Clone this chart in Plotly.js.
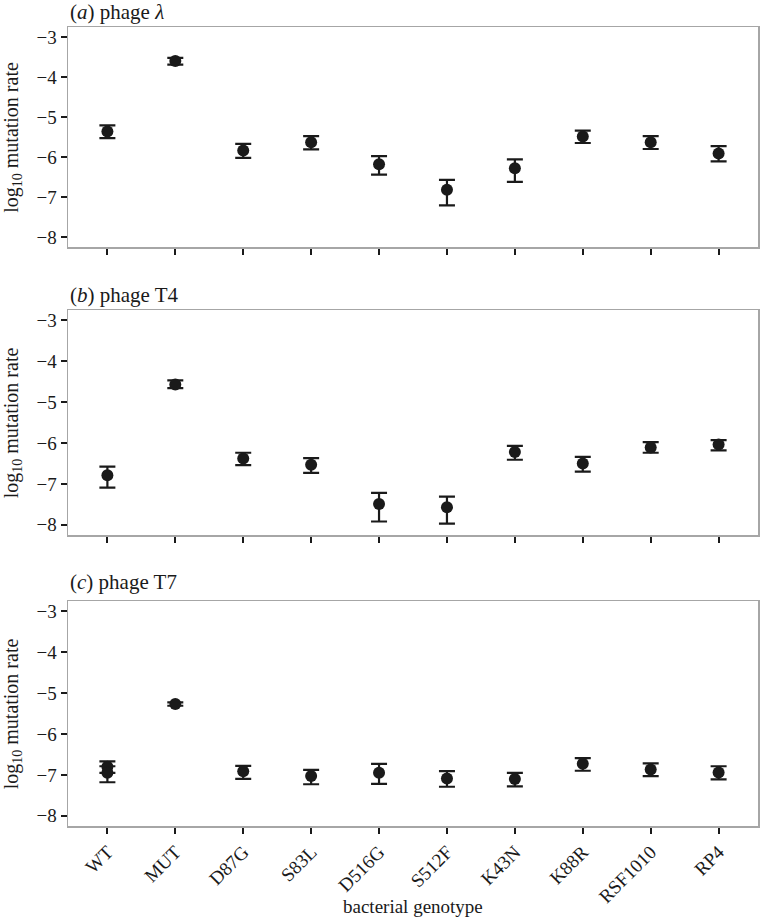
<!DOCTYPE html>
<html>
<head>
<meta charset="utf-8">
<script src="https://cdn.plot.ly/plotly-3.0.1.min.js"></script>
<style>
  html, body { margin: 0; padding: 0; background: #fff; }
  #plot { width: 761px; height: 923px; }
</style>
</head>
<body>
<div id="plot"></div>
<script>
// bacterial genotypes on the x axis
const genotypes = ["WT", "MUT", "D87G", "S83L", "D516G", "S512F", "K43N", "K88R", "RSF1010", "RP4"];
const yTicks = [-3, -4, -5, -6, -7, -8];

// (a) phage lambda: log10 mutation rate and interval ends
const lambdaRate = [-5.36, -3.60, -5.84, -5.63, -6.18, -6.82, -6.28, -5.49, -5.63, -5.91];
const lambdaUpper = [-5.21, -3.52, -5.67, -5.48, -5.98, -6.57, -6.06, -5.34, -5.48, -5.73];
const lambdaLower = [-5.53, -3.69, -6.02, -5.81, -6.44, -7.21, -6.62, -5.65, -5.80, -6.11];

// (b) phage T4
const t4Rate = [-6.79, -4.57, -6.38, -6.53, -7.49, -7.57, -6.22, -6.50, -6.11, -6.04];
const t4Upper = [-6.58, -4.47, -6.24, -6.37, -7.22, -7.31, -6.07, -6.34, -5.98, -5.93];
const t4Lower = [-7.09, -4.66, -6.54, -6.73, -7.92, -7.97, -6.41, -6.70, -6.24, -6.18];

// (c) phage T7 (WT appears twice)
const t7Genotypes = ["WT", "WT", "MUT", "D87G", "S83L", "D516G", "S512F", "K43N", "K88R", "RSF1010", "RP4"];
const t7Rate = [-6.80, -6.95, -5.27, -6.91, -7.03, -6.95, -7.09, -7.10, -6.73, -6.87, -6.94];
const t7Upper = [-6.67, -6.79, -5.23, -6.78, -6.88, -6.73, -6.91, -6.95, -6.59, -6.72, -6.79];
const t7Lower = [-6.95, -7.18, -5.31, -7.10, -7.23, -7.22, -7.29, -7.28, -6.90, -7.03, -7.11];

const ink = "#1a1a1a";
const serif = "'Liberation Serif', 'Times New Roman', 'DejaVu Serif', serif";

function makeTrace(x, rate, upper, lower, axisNum) {
  return {
    x: x,
    y: rate,
    type: "scatter",
    mode: "markers",
    marker: { color: ink, size: 12 },
    error_y: {
      type: "data",
      symmetric: false,
      array: upper.map((u, i) => u - rate[i]),
      arrayminus: rate.map((r, i) => r - lower[i]),
      color: ink,
      thickness: 2.2,
      width: 8,
    },
    xaxis: "x" + (axisNum === 1 ? "" : axisNum),
    yaxis: "y" + (axisNum === 1 ? "" : axisNum),
    showlegend: false,
    hoverinfo: "x+y",
  };
}

function xAxis(anchor, labels) {
  return {
    anchor: anchor,
    domain: [0, 1],
    type: "category",
    categoryorder: "array",
    categoryarray: genotypes,
    range: [-0.58, 9.58],
    showgrid: false,
    zeroline: false,
    showline: true,
    mirror: true,
    linecolor: "#a6a6a6",
    linewidth: 1.5,
    ticks: "outside",
    ticklen: 6,
    tickwidth: 2,
    tickcolor: ink,
    showticklabels: labels,
    tickangle: -45,
    tickfont: { family: serif, size: 19, color: ink },
  };
}

function yAxis(anchor, domain) {
  return {
    anchor: anchor,
    domain: domain,
    range: [-8.25, -2.75],
    tickvals: yTicks,
    showgrid: false,
    zeroline: false,
    showline: true,
    mirror: true,
    linecolor: "#a6a6a6",
    linewidth: 1.5,
    ticks: "outside",
    ticklen: 6,
    tickwidth: 2,
    tickcolor: ink,
    tickfont: { family: serif, size: 19, color: ink },
  };
}

// panel positions in pixels (top, bottom), turned into paper fractions
const H = 923;
const panels = [[27, 247], [310, 535], [601, 826]];
const domains = panels.map((p) => [1 - p[1] / H, 1 - p[0] / H]);
const titleY = [12, 295, 582].map((v) => 1 - v / H);
const panelTitles = [
  "(<i>a</i>) phage <i>λ</i>",
  "(<i>b</i>) phage T4",
  "(<i>c</i>) phage T7",
];

const annotations = [];
panelTitles.forEach((t, i) => {
  annotations.push({
    text: t,
    xref: "paper",
    yref: "paper",
    x: 0,
    y: titleY[i],
    xanchor: "left",
    yanchor: "middle",
    showarrow: false,
    font: { family: serif, size: 21, color: ink },
  });
  annotations.push({
    text: "log<sub>10</sub> mutation rate",
    xref: "paper",
    yref: "paper",
    x: -0.08,
    y: (domains[i][0] + domains[i][1]) / 2,
    xanchor: "center",
    yanchor: "middle",
    textangle: -90,
    showarrow: false,
    font: { family: serif, size: 20, color: ink },
  });
});
annotations.push({
  text: "bacterial genotype",
  xref: "paper",
  yref: "paper",
  x: 0.5,
  y: 1 - 906 / H,
  xanchor: "center",
  yanchor: "middle",
  showarrow: false,
  font: { family: serif, size: 19, color: ink },
});

const data = [
  makeTrace(genotypes, lambdaRate, lambdaUpper, lambdaLower, 1),
  makeTrace(genotypes, t4Rate, t4Upper, t4Lower, 2),
  makeTrace(t7Genotypes, t7Rate, t7Upper, t7Lower, 3),
];

const layout = {
  width: 761,
  height: 923,
  margin: { l: 68, r: 3, t: 0, b: 0 },
  paper_bgcolor: "#fff",
  plot_bgcolor: "#fff",
  font: { family: serif, color: ink },
  xaxis: xAxis("y", false),
  yaxis: yAxis("x", domains[0]),
  xaxis2: xAxis("y2", false),
  yaxis2: yAxis("x2", domains[1]),
  xaxis3: xAxis("y3", true),
  yaxis3: yAxis("x3", domains[2]),
  annotations: annotations,
};

Plotly.newPlot("plot", data, layout, { displayModeBar: false, staticPlot: true });
</script>
</body>
</html>
